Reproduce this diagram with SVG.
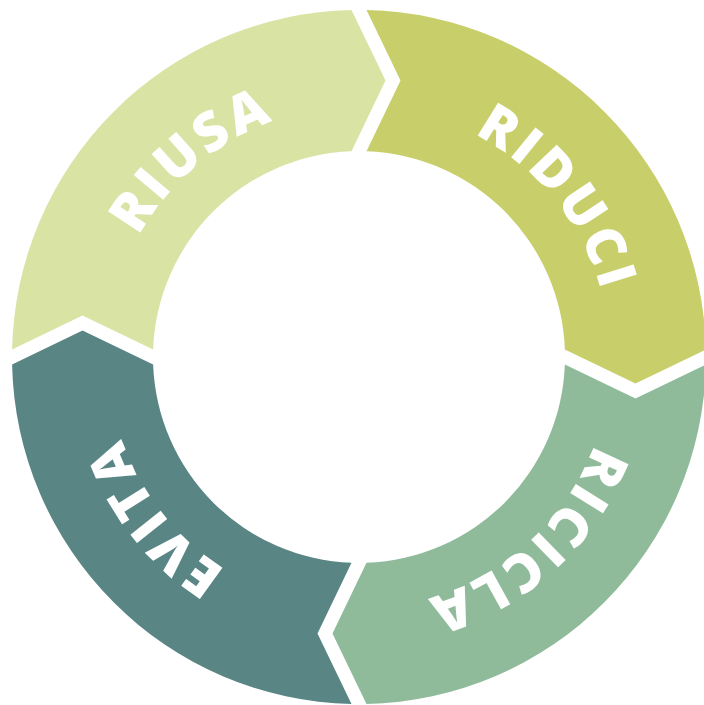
<svg xmlns="http://www.w3.org/2000/svg" xmlns:xlink="http://www.w3.org/1999/xlink" width="704" height="705" viewBox="0 0 704 705">
  <style>
    .lbl { font-family: "Open Sans", "DejaVu Sans", sans-serif; font-weight: 800; font-size: 54px; fill: #ffffff; letter-spacing: 3.5px; }
  </style>
  <defs>
    <path id="seg" d="M 12.08 349.5 A 347 347 0 0 1 351.5 10.08 L 385.5 80.5 L 351.5 151.14 A 206 206 0 0 0 153.14 349.5 L 82.5 315.5 Z"/>
    <path id="base" d="M 111.81 313.41 A 251 251 0 0 1 606.19 313.41"/>
  </defs>
  <rect width="704" height="705" fill="#ffffff"/>
  <g id="riusa">
    <use xlink:href="#seg" fill="#d9e4a4"/>
    <text class="lbl" transform="rotate(-40.3 359 357)"><textPath xlink:href="#base" startOffset="50%" text-anchor="middle">RIUSA</textPath></text>
  </g>
  <g id="riduci">
    <use xlink:href="#seg" fill="#c8cf6a" transform="rotate(90 359 357)"/>
    <text class="lbl" transform="rotate(51.3 359 357)"><textPath xlink:href="#base" startOffset="50%" text-anchor="middle">RIDUCI</textPath></text>
  </g>
  <g id="ricicla">
    <use xlink:href="#seg" fill="#8fbb9a" transform="rotate(180 359 357)"/>
    <text class="lbl" transform="rotate(137.6 359 357)"><textPath xlink:href="#base" startOffset="50%" text-anchor="middle">RICICLA</textPath></text>
  </g>
  <g id="evita">
    <use xlink:href="#seg" fill="#5a8585" transform="rotate(270 359 357)"/>
    <text class="lbl" transform="rotate(231.9 359 357)"><textPath xlink:href="#base" startOffset="50%" text-anchor="middle">EVITA</textPath></text>
  </g>
  <g id="connectors"></g>
</svg>
